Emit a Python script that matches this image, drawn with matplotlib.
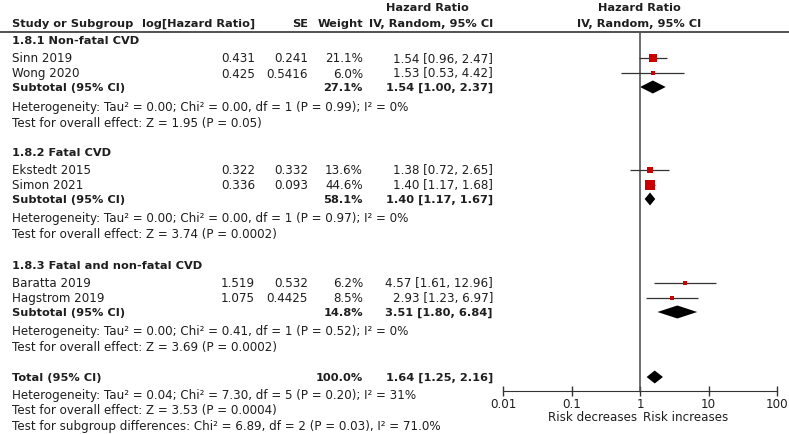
import matplotlib.pyplot as plt
import numpy as np

# ---- data ----
groups = ["1.8.1 Non-fatal CVD", "1.8.2 Fatal CVD", "1.8.3 Fatal and non-fatal CVD"]
studies = ["Sinn 2019", "Wong 2020", "Ekstedt 2015", "Simon 2021", "Baratta 2019", "Hagstrom 2019"]
study_group = [0, 0, 1, 1, 2, 2]
log_hr = [0.431, 0.425, 0.322, 0.336, 1.519, 1.075]
se = [0.241, 0.5416, 0.332, 0.093, 0.532, 0.4425]
weight = [21.1, 6.0, 13.6, 44.6, 6.2, 8.5]
hr = [1.54, 1.53, 1.38, 1.40, 4.57, 2.93]
hr_lo = [0.96, 0.53, 0.72, 1.17, 1.61, 1.23]
hr_hi = [2.47, 4.42, 2.65, 1.68, 12.96, 6.97]

sub_weight = [27.1, 58.1, 14.8]
sub_hr = [1.54, 1.40, 3.51]
sub_lo = [1.00, 1.17, 1.80]
sub_hi = [2.37, 1.67, 6.84]
sub_tau2 = [0.00, 0.00, 0.00]
sub_chi2 = [0.00, 0.00, 0.41]
sub_df = [1, 1, 1]
sub_p = [0.99, 0.97, 0.52]
sub_i2 = [0, 0, 0]
sub_z = [1.95, 3.74, 3.69]
sub_pz = ["0.05", "0.0002", "0.0002"]

tot_weight = 100.0
tot_hr, tot_lo, tot_hi = 1.64, 1.25, 2.16
tot_tau2, tot_chi2, tot_df, tot_p, tot_i2 = 0.04, 7.30, 5, 0.20, 31
tot_z, tot_pz = 3.53, "0.0004"
diff_chi2, diff_df, diff_p, diff_i2 = 6.89, 2, 0.03, 71.0

tick_vals = [0.01, 0.1, 1, 10, 100]
tick_labels = ["0.01", "0.1", "1", "10", "100"]

# ---- layout (pixels) ----
W, H = 789, 435
group_y0 = [41, 153, 266]
total_y = 378
x_name, x_loghr, x_se, x_wt, x_ci = 12, 255, 308, 363, 493
fx0, fx1 = 503, 777
fs = 8.6
fs_b = 8.2
txt = "#1e1e1e"
red = "#c80000"

fig = plt.figure(figsize=(W / 100, H / 100), dpi=100)
ax = fig.add_axes([0, 0, 1, 1])
ax.set_xlim(0, W)
ax.set_ylim(H, 0)
ax.axis("off")


def t(x, y, s, ha="left", bold=False):
    ax.text(x, y, s, ha=ha, va="center", fontsize=fs_b if bold else fs, color=txt,
            fontweight="bold" if bold else "normal")


# headers
t(427, 8, "Hazard Ratio", ha="center", bold=True)
t(639, 8, "Hazard Ratio", ha="center", bold=True)
t(x_name, 24, "Study or Subgroup", bold=True)
t(x_loghr, 24, "log[Hazard Ratio]", ha="right", bold=True)
t(x_se, 24, "SE", ha="right", bold=True)
t(x_wt, 24, "Weight", ha="right", bold=True)
t(x_ci, 24, "IV, Random, 95% CI", ha="right", bold=True)
t(639, 24, "IV, Random, 95% CI", ha="center", bold=True)
ax.plot([0, W], [33, 33], color="#333333", lw=1.2)

# forest axes
fa = fig.add_axes([fx0 / W, 0, (fx1 - fx0) / W, 1])
fa.patch.set_visible(False)
fa.set_xscale("log")
fa.set_xlim(0.01, 100)
fa.set_ylim(H, 0)
for s in ["left", "right", "top"]:
    fa.spines[s].set_visible(False)
fa.spines["bottom"].set_position(("data", 392))
fa.spines["bottom"].set_color("#333333")
fa.set_yticks([])
fa.set_xticks(tick_vals)
fa.set_xticklabels(tick_labels)
fa.xaxis.set_minor_locator(plt.NullLocator())
fa.tick_params(axis="x", direction="inout", length=7, width=1, color="#333333",
               labelsize=fs, labelcolor=txt, pad=1)
fa.vlines(1, 33, 392, color="#555555", lw=1.2)
fa.text(0.9, 418, "Risk decreases", ha="right", va="center", fontsize=fs, color=txt)
fa.text(1.12, 418, "Risk increases", ha="left", va="center", fontsize=fs, color=txt)


def diamond(c, lo, hi, y, h=6.5):
    fa.fill([lo, c, hi, c], [y, y - h, y, y + h], color="black", lw=0, clip_on=False)


for g in range(3):
    y0 = group_y0[g]
    t(x_name, y0, groups[g], bold=True)
    idx = [i for i in range(len(studies)) if study_group[i] == g]
    for k, i in enumerate(idx):
        y = y0 + 18 + 15 * k
        t(x_name, y, studies[i])
        t(x_loghr, y, str(log_hr[i]), ha="right")
        t(x_se, y, str(se[i]), ha="right")
        t(x_wt, y, "%.1f%%" % weight[i], ha="right")
        t(x_ci, y, "%.2f [%.2f, %.2f]" % (hr[i], hr_lo[i], hr_hi[i]), ha="right")
        fa.hlines(y, hr_lo[i], hr_hi[i], color="#333333", lw=0.9, clip_on=False)
        side = 1.6 * np.sqrt(weight[i]) * 0.72
        fa.scatter([hr[i]], [y], s=side ** 2, marker="s", color=red, lw=0,
                   zorder=3, clip_on=False)
    ys = y0 + 47
    t(x_name, ys, "Subtotal (95% CI)", bold=True)
    t(x_wt, ys, "%.1f%%" % sub_weight[g], ha="right", bold=True)
    t(x_ci, ys, "%.2f [%.2f, %.2f]" % (sub_hr[g], sub_lo[g], sub_hi[g]), ha="right", bold=True)
    diamond(sub_hr[g], sub_lo[g], sub_hi[g], ys)
    t(x_name, y0 + 66, "Heterogeneity: Tau\u00b2 = %.2f; Chi\u00b2 = %.2f, df = %d (P = %.2f); I\u00b2 = %d%%"
      % (sub_tau2[g], sub_chi2[g], sub_df[g], sub_p[g], sub_i2[g]))
    t(x_name, y0 + 82, "Test for overall effect: Z = %.2f (P = %s)" % (sub_z[g], sub_pz[g]))

t(x_name, total_y, "Total (95% CI)", bold=True)
t(x_wt, total_y, "%.1f%%" % tot_weight, ha="right", bold=True)
t(x_ci, total_y, "%.2f [%.2f, %.2f]" % (tot_hr, tot_lo, tot_hi), ha="right", bold=True)
diamond(tot_hr, tot_lo, tot_hi, total_y)
t(x_name, total_y + 18, "Heterogeneity: Tau\u00b2 = %.2f; Chi\u00b2 = %.2f, df = %d (P = %.2f); I\u00b2 = %d%%"
  % (tot_tau2, tot_chi2, tot_df, tot_p, tot_i2))
t(x_name, total_y + 33, "Test for overall effect: Z = %.2f (P = %s)" % (tot_z, tot_pz))
t(x_name, total_y + 49, "Test for subgroup differences: Chi\u00b2 = %.2f, df = %d (P = %.2f), I\u00b2 = %.1f%%"
  % (diff_chi2, diff_df, diff_p, diff_i2))

fig.savefig("out.png", dpi=100)
